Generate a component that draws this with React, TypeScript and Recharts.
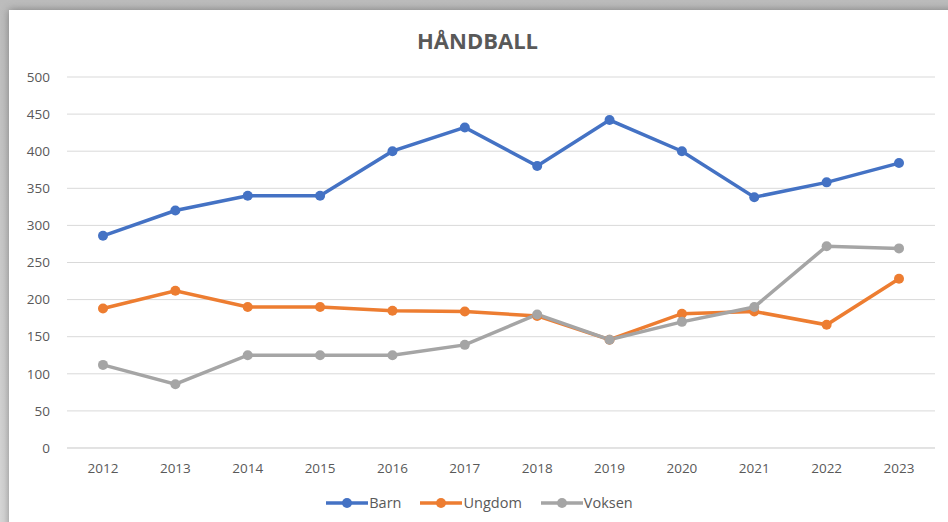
import { LineChart, Line, XAxis, YAxis, CartesianGrid, Legend } from 'recharts';

const years = ['2012', '2013', '2014', '2015', '2016', '2017', '2018', '2019', '2020', '2021', '2022', '2023'];
const barn = [286, 320, 340, 340, 400, 432, 380, 442, 400, 338, 358, 384];
const ungdom = [188, 212, 190, 190, 185, 184, 178, 146, 181, 184, 166, 228];
const voksen = [112, 86, 125, 125, 125, 139, 180, 146, 170, 190, 272, 269];
const yTicks = [0, 50, 100, 150, 200, 250, 300, 350, 400, 450, 500];

const SERIES = [
  { key: 'Barn', color: '#4472C4' },
  { key: 'Ungdom', color: '#ED7D31' },
  { key: 'Voksen', color: '#A5A5A5' },
];

const data = years.map((y, i) => ({ year: y, Barn: barn[i], Ungdom: ungdom[i], Voksen: voksen[i] }));

const FONT = '"Open Sans", "Noto Sans", sans-serif';

function LegendContent() {
  return (
    <div style={{ display: 'flex', justifyContent: 'center', gap: 18, fontFamily: FONT, fontSize: 14.5, color: '#595959', paddingLeft: 10 }}>
      {SERIES.map((s) => (
        <div key={s.key} style={{ display: 'flex', alignItems: 'center' }}>
          <svg width={44} height={12}>
            <line x1={1} y1={6} x2={43} y2={6} stroke={s.color} strokeWidth={3.5} />
            <circle cx={22} cy={6} r={5} fill={s.color} />
          </svg>
          <span>{s.key}</span>
        </div>
      ))}
    </div>
  );
}

export default function App() {
  return (
    <div style={{ position: 'absolute', left: 0, top: 0, width: 948, height: 522, overflow: 'hidden', background: 'linear-gradient(#bcbcbc, #d6d6d6)' }}>
      <div style={{ position: 'absolute', left: 9, top: 10, width: 960, height: 530, background: '#fff', boxShadow: '0 0 8px rgba(0,0,0,0.35)' }} />
      <div style={{ position: 'absolute', left: 0, top: 25, width: 955, textAlign: 'center', fontFamily: FONT, fontWeight: 700, fontSize: 22, color: '#595959' }}>
        HÅNDBALL
      </div>
      <div style={{ position: 'absolute', left: 0, top: 0 }}>
        <LineChart width={948} height={522} data={data} margin={{ top: 77, right: 13, left: 10, bottom: 25 }}>
          <CartesianGrid vertical={false} stroke="#d9d9d9" />
          <XAxis
            dataKey="year"
            axisLine={{ stroke: '#d9d9d9' }}
            tickLine={false}
            tickMargin={9}
            height={30}
            interval={0}
            padding={{ left: 36, right: 36 }}
            tick={{ fill: '#595959', fontSize: 13.5, fontFamily: FONT }}
          />
          <YAxis
            domain={[0, 500]}
            ticks={yTicks}
            axisLine={false}
            tickLine={false}
            tickMargin={11}
            width={57}
            interval={0}
            tick={{ fill: '#595959', fontSize: 13.5, fontFamily: FONT }}
          />
          <Legend content={<LegendContent />} wrapperStyle={{ top: 493, left: 0, width: 948 }} />
          {SERIES.map((s) => (
            <Line
              key={s.key}
              dataKey={s.key}
              stroke={s.color}
              strokeWidth={3.5}
              dot={{ r: 5, fill: s.color, stroke: s.color, strokeWidth: 0 }}
              activeDot={false}
              isAnimationActive={false}
            />
          ))}
        </LineChart>
      </div>
    </div>
  );
}
